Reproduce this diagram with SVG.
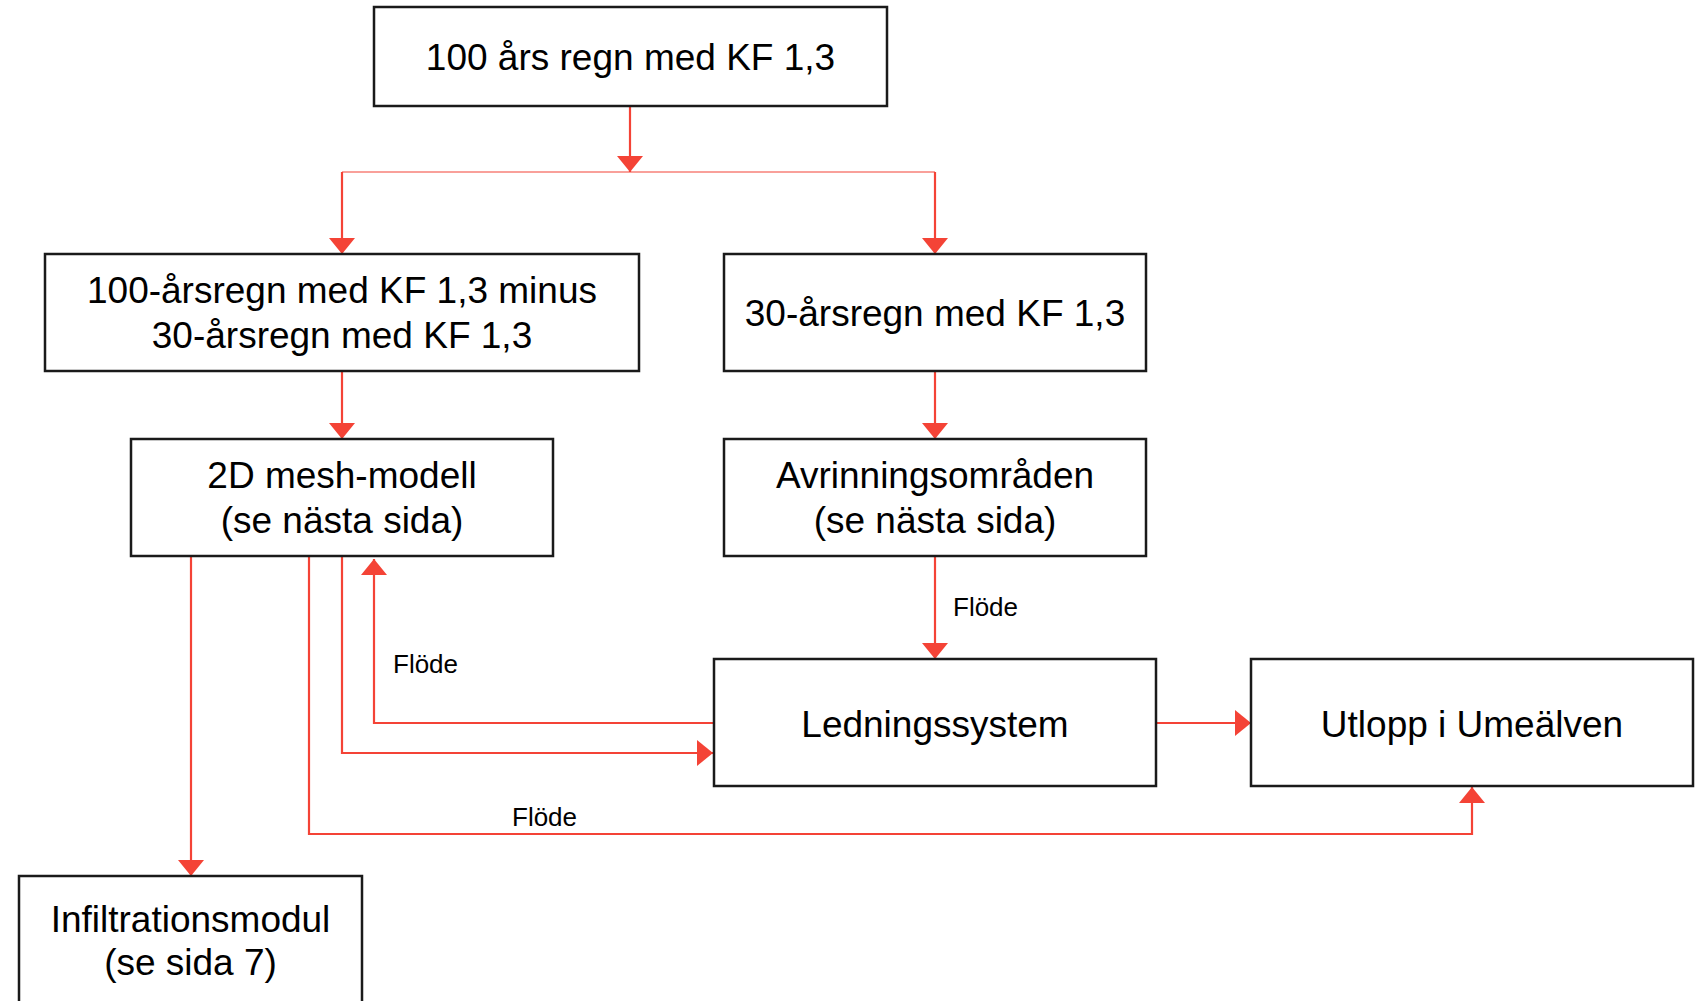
<svg xmlns="http://www.w3.org/2000/svg" width="1699" height="1001" viewBox="0 0 1699 1001">
<style>
.box{fill:#fff;stroke:#1a1a1a;stroke-width:2.5}
.t{font-family:"Liberation Sans",Arial,sans-serif;font-size:37px;fill:#000;text-anchor:middle}
.lbl{font-family:"Liberation Sans",Arial,sans-serif;font-size:26px;fill:#000}
.c{fill:none;stroke:#f44336;stroke-width:2.2}
.thin{fill:none;stroke:#f44336;stroke-width:1.2}
</style>
<defs>
<marker id="ah" markerUnits="userSpaceOnUse" viewBox="0 0 16 26" refX="16" refY="13" markerWidth="16" markerHeight="26" orient="auto">
<path d="M0,0 L16,13 L0,26 z" fill="#f44336"/>
</marker>
</defs>
<rect width="1699" height="1001" fill="#fff"/>
<g id="connectors">
<path class="c" d="M630,106 V172" marker-end="url(#ah)"/>
<path class="thin" d="M342,172 H935"/>
<path class="c" d="M342,172 V254" marker-end="url(#ah)"/>
<path class="c" d="M935,172 V254" marker-end="url(#ah)"/>
<path class="c" d="M342,371 V439" marker-end="url(#ah)"/>
<path class="c" d="M935,371 V439" marker-end="url(#ah)"/>
<path class="c" d="M935,556 V659" marker-end="url(#ah)"/>
<path class="c" d="M191,556 V876" marker-end="url(#ah)"/>
<path class="c" d="M309,556 V834 H1472 V787" marker-end="url(#ah)"/>
<path class="c" d="M342,556 V753 H713" marker-end="url(#ah)"/>
<path class="c" d="M713,723 H374 V559" marker-end="url(#ah)"/>
<path class="c" d="M1156,723 H1251" marker-end="url(#ah)"/>
<text class="lbl" x="953" y="616">Flöde</text>
<text class="lbl" x="393" y="673">Flöde</text>
<text class="lbl" x="512" y="826">Flöde</text>
</g>
<g id="n-top">
<rect class="box" x="374" y="7" width="513" height="99"/>
<text class="t" x="630.5" y="70">100 års regn med KF 1,3</text>
</g>
<g id="n-100minus30">
<rect class="box" x="45" y="254" width="594" height="117"/>
<text class="t" x="342" y="303">100-årsregn med KF 1,3 minus</text>
<text class="t" x="342" y="348">30-årsregn med KF 1,3</text>
</g>
<g id="n-30">
<rect class="box" x="724" y="254" width="422" height="117"/>
<text class="t" x="935" y="326">30-årsregn med KF 1,3</text>
</g>
<g id="n-2d">
<rect class="box" x="131" y="439" width="422" height="117"/>
<text class="t" x="342" y="488">2D mesh-modell</text>
<text class="t" x="342" y="533">(se nästa sida)</text>
</g>
<g id="n-avr">
<rect class="box" x="724" y="439" width="422" height="117"/>
<text class="t" x="935" y="488">Avrinningsområden</text>
<text class="t" x="935" y="533">(se nästa sida)</text>
</g>
<g id="n-led">
<rect class="box" x="714" y="659" width="442" height="127"/>
<text class="t" x="935" y="737">Ledningssystem</text>
</g>
<g id="n-utl">
<rect class="box" x="1251" y="659" width="442" height="127"/>
<text class="t" x="1472" y="737">Utlopp i Umeälven</text>
</g>
<g id="n-inf">
<rect class="box" x="19" y="876" width="343" height="140"/>
<text class="t" x="190.5" y="932">Infiltrationsmodul</text>
<text class="t" x="190.5" y="975">(se sida 7)</text>
</g>
</svg>
